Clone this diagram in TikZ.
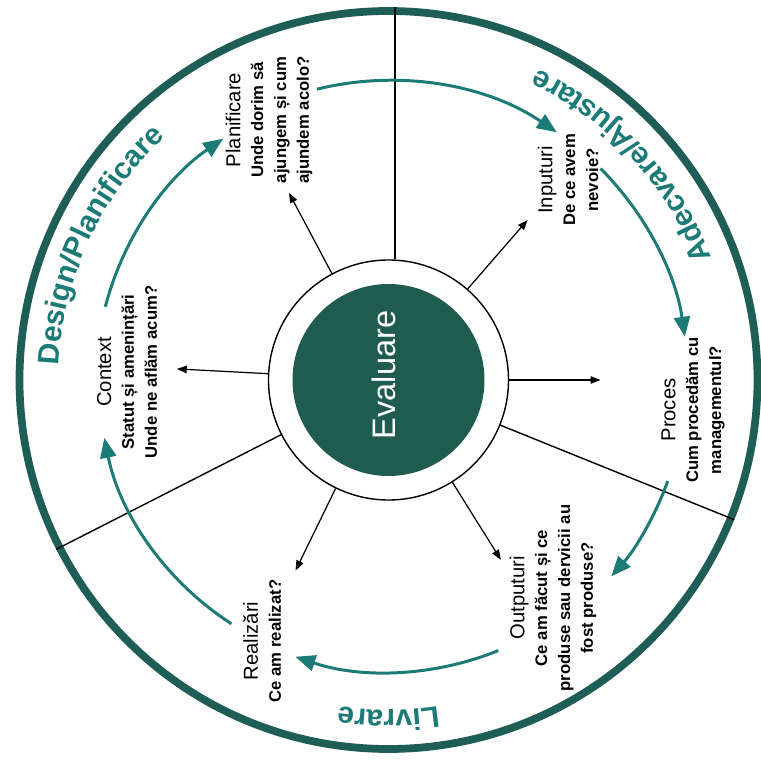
\documentclass[tikz,border=0pt]{standalone}
\usepackage{fontspec}
\setmainfont{Liberation Sans}
\usetikzlibrary{arrows.meta,decorations.text}
\definecolor{evalgreen}{HTML}{1F5C4F}
\definecolor{rimgreen}{HTML}{1F5E57}
\definecolor{flowteal}{HTML}{1C7A77}
\newcommand{\stagetitle}[1]{{\mdseries\fontsize{11.5}{13}\selectfont #1}}

\begin{document}
\begin{tikzpicture}
  \tikzset{
    stage/.style={rotate=90, align=center, inner sep=1pt, font=\fontsize{9.5}{13}\selectfont\bfseries},
    spoke/.style={line width=0.7pt, -{Triangle[length=0.2cm,width=0.15cm]}},
    divider/.style={line width=0.8pt},
    flow/.style={flowteal, line width=1.7pt, -{Triangle[length=0.4cm,width=0.32cm]}},
    phase/.style={decorate, decoration={text along path, text align=center,
      text={|\fontsize{17}{17}\selectfont\bfseries\color{flowteal}|#1}}}
  }
  \useasboundingbox (-7.77,-7.62) rectangle (7.45,7.6);
  \node[circle, draw=rimgreen, line width=4.4pt, minimum size=14.76cm] (rim) {};
  \node[circle, draw, line width=0.8pt, minimum size=4.8cm] (ring) {};
  \node[circle, fill=evalgreen, minimum size=3.84cm] (disk) {};
  \node[rotate=90, text=white, font=\fontsize{18.5}{20}\selectfont] (evaltext) at (-0.09,0.1) {Evaluare};
  \draw[divider] (ring.87) -- (ring.87 |- rim.north);
  \foreach \a in {207,-22} {
    \draw[divider] (ring.\a) -- (rim.\a);
  }
  \foreach \a/\n in {177/ctx,118/plan,49/inp,0/proc,-58/outp,-116/real} {
    \coordinate (tip\n) at (\a:4.24);
    \draw[spoke] (ring.\a) -- (tip\n);
  }
  \node[stage] (ctx) at (-5.23,0.16) {\stagetitle{Context}\\Statut și amenințări\\Unde ne aflăm acum?};
  \node[stage] (plan) at (-2.39,5.2) {\stagetitle{Planificare}\\Unde dorim să\\ajungem și cum\\ajundem acolo?};
  \node[stage] (inp) at (3.59,4.0) {\stagetitle{Inputuri}\\De ce avem\\nevoie?};
  \node[stage] (proc) at (6.09,-0.6) {\stagetitle{Proces}\\Cum procedăm cu\\managementul?};
  \node[stage] (outp) at (3.29,-4.36) {\stagetitle{Outputuri}\\Ce am făcut și ce\\produse sau dervicii au\\fost produse?};
  \node[stage] (real) at (-2.53,-5.22) {\stagetitle{Realizări}\\Ce am realizat?};
  \foreach \s/\e/\r [count=\i] in {165.5/124.4/5.85, 103.8/55.8/5.99, 44.9/8.3/5.99,
      -19.9/-41.4/5.94, -67.9/-108.6/5.84, -122.8/-168.5/5.8} {
    \coordinate (flow\i) at (\s:\r);
    \draw[flow] (flow\i) arc[start angle=\s, end angle=\e, radius=\r];
  }
  \path[phase=Design/Planificare] (200:6.6) arc[start angle=200, end angle=110, radius=6.6];
  \path[phase=Adecvare/Ajustare] (0:6.9) arc[start angle=0, end angle=85, radius=6.9];
  \path[phase=Livrare] (-45:6.6) arc[start angle=-45, end angle=-135, radius=6.6];
\end{tikzpicture}
\end{document}
